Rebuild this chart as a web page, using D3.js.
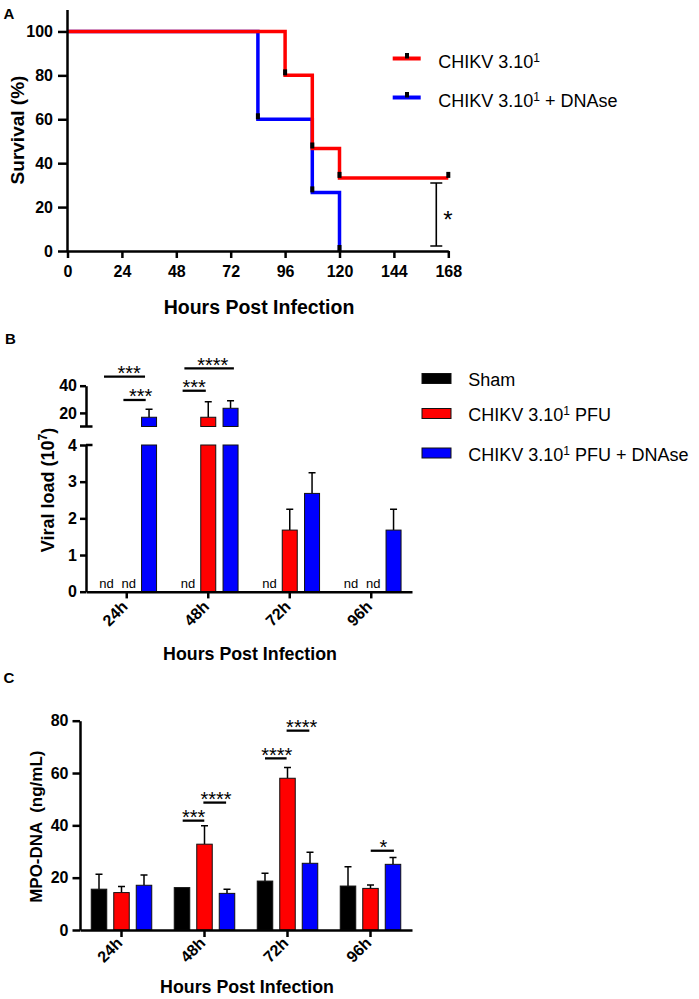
<!DOCTYPE html>
<html><head><meta charset="utf-8">
<script src="https://cdn.jsdelivr.net/npm/d3@7"></script>
<style>
body{margin:0;background:#fff;}
svg{display:block;font-family:"Liberation Sans",Arial,Helvetica,sans-serif;}
</style>
</head><body>
<svg id="chart" width="699" height="999"></svg>
<script>
// ---------- Panel A: survival ----------
const survHourTicks = [0, 24, 48, 72, 96, 120, 144, 168];
const survPctTicks = [0, 20, 40, 60, 80, 100];
const redTimes = [0, 96, 108, 120, 168];
const redSurv = [100, 80, 46.7, 33.3, 33.3];
const blueTimes = [0, 84, 108, 120];
const blueSurv = [100, 60, 26.7, 0];
const survLegend = [["CHIKV 3.10", "1", ""], ["CHIKV 3.10", "1", " + DNAse"]];
const survSig = {hour: 162.7, from: 2.3, to: 31, text: "*"};

// ---------- Panel B: viral load ----------
const groups = ["24h", "48h", "72h", "96h"];
const seriesLabels = [["Sham", "", ""], ["CHIKV 3.10", "1", " PFU"], ["CHIKV 3.10", "1", " PFU + DNAse"]];
const seriesColors = ["#000000", "#ff0000", "#0000ff"];
const viralSham = [null, null, null, null];
const viralRed = [null, 16.8, 1.68, null];
const viralBlue = [16.8, 23.4, 2.68, 1.68];
const viralShamErr = [null, null, null, null];
const viralRedErr = [null, 11.4, 0.57, null];
const viralBlueErr = [5.8, 5.6, 0.56, 0.57];
const viralLowTicks = [0, 1, 2, 3, 4];
const viralHighTicks = [20, 40];
const viralSig = [
  {group: "24h", from: -0.02, to: 1.82, level: 46.6, star: 1.11, text: "***"},
  {group: "24h", from: 0.85, to: 1.85, level: 29.5, star: 1.62, text: "***"},
  {group: "48h", from: -0.15, to: 0.89, level: 36.3, star: 0.37, text: "***"},
  {group: "48h", from: -0.07, to: 2.15, level: 52.8, star: 1.2, text: "****"}
];

// ---------- Panel C: MPO-DNA ----------
const mpoSham = [15.6, 16.2, 18.7, 16.8];
const mpoRed = [14.3, 32.8, 58.0, 15.9];
const mpoBlue = [17.1, 14.0, 25.5, 25.1];
const mpoShamErr = [5.7, 0, 3.0, 7.4];
const mpoRedErr = [2.3, 7.0, 4.1, 1.3];
const mpoBlueErr = [3.9, 1.6, 4.2, 2.6];
const mpoTicks = [0, 20, 40, 60, 80];
const mpoSig = [
  {group: "48h", from: 0.03, to: 0.99, level: 41.8, star: 0.52, text: "***"},
  {group: "48h", from: 0.95, to: 1.96, level: 48.7, star: 1.51, text: "****"},
  {group: "72h", from: 0.0, to: 0.96, level: 65.6, star: 0.52, text: "****"},
  {group: "72h", from: 0.96, to: 1.97, level: 76.2, star: 1.63, text: "****"},
  {group: "96h", from: 1.01, to: 2.04, level: 30.3, star: 1.57, text: "*"}
];

const svg = d3.select("#chart");
const AXW = 2.5;
const intFmt = d3.format("d");

function styleAxis(sel, fs) {
  sel.attr("font-family", null).attr("font-size", null);
  sel.select(".domain").attr("stroke", "#000").attr("stroke-width", AXW);
  sel.selectAll(".tick line").attr("stroke", "#000").attr("stroke-width", AXW);
  sel.selectAll(".tick text").attr("fill", "#000")
    .style("font-size", fs + "px").style("font-weight", "bold");
}

function richText(g, x, y, parts, fs, weight, anchor, rotate, supFs, supDy) {
  const t = g.append("text")
    .attr("transform", `translate(${x},${y})` + (rotate ? ` rotate(${rotate})` : ""))
    .attr("text-anchor", anchor || "start")
    .style("font-size", fs + "px").style("font-weight", weight || "normal")
    .style("white-space", "pre").attr("fill", "#000");
  t.append("tspan").text(parts[0]);
  if (parts[1]) {
    t.append("tspan").text(parts[1]).style("font-size", supFs + "px").attr("dy", -supDy);
    if (parts[2]) t.append("tspan").text(parts[2]).attr("dy", supDy);
  }
  return t;
}

function panelLabel(txt, x, y) {
  svg.append("text").attr("x", x).attr("y", y).text(txt)
    .style("font-size", "15px").style("font-weight", "bold");
}

// =============== PANEL A ===============
(function () {
  const g = svg.append("g");
  const x = d3.scaleLinear().domain([0, 168]).range([67.5, 448.3]);
  const y = d3.scaleLinear().domain([0, 110]).range([251, 9.5]);
  panelLabel("A", 3.5, 18.5);

  const curve = d3.line().x(d => x(d[0])).y(d => y(d[1])).curve(d3.curveStepAfter);
  const blue = blueTimes.map((t, i) => [t, blueSurv[i]]);
  const red = redTimes.map((t, i) => [t, redSurv[i]]);
  g.append("path").attr("d", curve(blue)).attr("fill", "none")
    .attr("stroke", "#0000ff").attr("stroke-width", 3.5);
  g.append("path").attr("d", curve(red)).attr("fill", "none")
    .attr("stroke", "#ff0000").attr("stroke-width", 3.5);

  const marks = blue.slice(1).concat(red.slice(1));
  g.selectAll("rect.mk").data(marks).join("rect").attr("class", "mk")
    .attr("x", d => x(d[0]) - 2).attr("y", d => y(d[1]) - 6)
    .attr("width", 4).attr("height", 6).attr("fill", "#000");

  const xa = g.append("g").attr("transform", "translate(0,251)")
    .call(d3.axisBottom(x).tickValues(survHourTicks).tickFormat(intFmt).tickSize(7).tickSizeOuter(0).tickPadding(7.6));
  styleAxis(xa, 16);
  const ya = g.append("g").attr("transform", "translate(67,0)")
    .call(d3.axisLeft(y).tickValues(survPctTicks).tickFormat(intFmt).tickSize(9).tickPadding(5).tickSizeOuter(0));
  styleAxis(ya, 16);

  // significance bracket
  const bx = x(survSig.hour);
  g.append("path")
    .attr("d", `M${bx - 6},${y(survSig.to)}H${bx + 6}M${bx},${y(survSig.to)}V${y(survSig.from)}M${bx - 6},${y(survSig.from)}H${bx + 6}`)
    .attr("stroke", "#000").attr("stroke-width", 1.6).attr("fill", "none");
  g.append("text").attr("x", bx + 7).attr("y", (y(survSig.to) + y(survSig.from)) / 2 + 13.5)
    .text(survSig.text).style("font-size", "24px");

  g.append("text").attr("x", 259).attr("y", 314).attr("text-anchor", "middle")
    .text("Hours Post Infection").style("font-size", "19.5px").style("font-weight", "bold");
  g.append("text").attr("transform", "translate(24.3,130) rotate(-90)").attr("text-anchor", "middle")
    .text("Survival (%)").style("font-size", "19px").style("font-weight", "bold");

  // legend
  const legCol = ["#ff0000", "#0000ff"];
  const legY = [58.5, 97.5];
  survLegend.forEach((lab, i) => {
    g.append("line").attr("x1", 392.7).attr("x2", 420.7).attr("y1", legY[i]).attr("y2", legY[i])
      .attr("stroke", legCol[i]).attr("stroke-width", 4);
    g.append("rect").attr("x", 405).attr("y", legY[i] - 5.5).attr("width", 4).attr("height", 5.5).attr("fill", "#000");
    richText(g, 438.3, legY[i] + 9.8, lab, 18, "normal", "start", 0, 12, 6);
  });
})();

// =============== shared bar helpers ===============
function drawErr(g, cx, y0, y1) {
  g.append("path").attr("d", `M${cx},${y0}V${y1}M${cx - 3.5},${y1}H${cx + 3.5}`)
    .attr("stroke", "#000").attr("stroke-width", 1.5).attr("fill", "none");
}
function drawSig(g, sigs, xc, off, yScale) {
  sigs.forEach(s => {
    const c = xc(s.group);
    const yy = yScale(s.level);
    g.append("line").attr("x1", c + (s.from - 1) * off).attr("x2", c + (s.to - 1) * off)
      .attr("y1", yy).attr("y2", yy).attr("stroke", "#000").attr("stroke-width", 2.3);
    g.append("text").attr("x", c + (s.star - 1) * off).attr("y", yy + 3.5)
      .attr("text-anchor", "middle").text(s.text).style("font-size", "20px");
  });
}
function rotLabels(ax, dyv) {
  ax.selectAll(".tick text").attr("x", null).attr("y", null).attr("dy", "0.35em")
    .attr("text-anchor", "end").attr("transform", `translate(-2,${dyv}) rotate(-45)`);
}

// =============== PANEL B ===============
(function () {
  const g = svg.append("g");
  panelLabel("B", 5, 344);
  const xb = d3.scaleBand().domain(groups).range([86, 412]);
  const xc = gr => xb(gr) + xb.bandwidth() / 2;
  const yLo = d3.scaleLinear().domain([0, 4]).range([591.7, 445]);
  const yUp = d3.scaleLinear().domain([10, 40]).range([426.5, 385.7]);
  const OFF = 22.3, BW = 15;
  const vals = [viralSham, viralRed, viralBlue];
  const errs = [viralShamErr, viralRedErr, viralBlueErr];

  vals.forEach((arr, s) => {
    arr.forEach((v, i) => {
      const cx = xc(groups[i]) + (s - 1) * OFF;
      if (v === null) {
        g.append("text").attr("x", cx + 2).attr("y", 588).attr("text-anchor", "middle")
          .text("nd").style("font-size", "13px");
        return;
      }
      const e = errs[s][i];
      if (v > 4) {
        g.append("rect").attr("x", cx - BW / 2).attr("y", yLo(4)).attr("width", BW)
          .attr("height", yLo(0) - yLo(4)).attr("fill", seriesColors[s]).attr("stroke", "#111").attr("stroke-width", 1);
        drawErr(g, cx, yUp(v), yUp(v + e));
        g.append("rect").attr("x", cx - BW / 2).attr("y", yUp(v)).attr("width", BW)
          .attr("height", yUp(10) - yUp(v)).attr("fill", seriesColors[s]).attr("stroke", "#111").attr("stroke-width", 1);
      } else {
        drawErr(g, cx, yLo(v), yLo(v + e));
        g.append("rect").attr("x", cx - BW / 2).attr("y", yLo(v)).attr("width", BW)
          .attr("height", yLo(0) - yLo(v)).attr("fill", seriesColors[s]).attr("stroke", "#111").attr("stroke-width", 1);
      }
    });
  });

  const lo = g.append("g").attr("transform", "translate(86,0)")
    .call(d3.axisLeft(yLo).tickValues(viralLowTicks).tickFormat(intFmt).tickSize(6).tickPadding(3).tickSizeOuter(0));
  styleAxis(lo, 16);
  const up = g.append("g").attr("transform", "translate(86,0)")
    .call(d3.axisLeft(yUp).tickValues(viralHighTicks).tickFormat(intFmt).tickSize(6).tickPadding(3).tickSizeOuter(0));
  styleAxis(up, 16);
  // break caps
  g.append("path").attr("d", `M80,${yUp(10)}H92.5M86,${yLo(4)}H92.5`)
    .attr("stroke", "#000").attr("stroke-width", AXW);

  const xa = g.append("g").attr("transform", `translate(0,${yLo(0)})`)
    .call(d3.axisBottom(xb).tickSize(6.7).tickSizeOuter(0));
  styleAxis(xa, 16);
  rotLabels(xa, 12);

  drawSig(g, viralSig, xc, OFF, yUp);

  g.append("text").attr("x", 250).attr("y", 660).attr("text-anchor", "middle")
    .text("Hours Post Infection").style("font-size", "17.8px").style("font-weight", "bold");
  richText(g, 53.5, 490, ["Viral load (10", "7", ")"], 18, "bold", "middle", -90, 12, 7);

  // legend
  const legBase = [386, 421, 460.5];
  seriesLabels.forEach((lab, i) => {
    g.append("rect").attr("x", 422).attr("y", legBase[i] - 12.5).attr("width", 29).attr("height", 10)
      .attr("fill", seriesColors[i]).attr("stroke", "#111").attr("stroke-width", 1);
    richText(g, 468.3, legBase[i], lab, 18, "normal", "start", 0, 12, 6);
  });
})();

// =============== PANEL C ===============
(function () {
  const g = svg.append("g");
  panelLabel("C", 3.5, 683);
  const xb = d3.scaleBand().domain(groups).range([80, 412]);
  const xc = gr => xb(gr) + xb.bandwidth() / 2;
  const y = d3.scaleLinear().domain([0, 80]).range([930, 720.7]);
  const OFF = 22.5, BW = 15.5;
  const vals = [mpoSham, mpoRed, mpoBlue];
  const errs = [mpoShamErr, mpoRedErr, mpoBlueErr];

  vals.forEach((arr, s) => {
    arr.forEach((v, i) => {
      const cx = xc(groups[i]) + (s - 1) * OFF;
      const e = errs[s][i];
      if (e > 0) drawErr(g, cx, y(v), y(v + e));
      g.append("rect").attr("x", cx - BW / 2).attr("y", y(v)).attr("width", BW)
        .attr("height", y(0) - y(v)).attr("fill", seriesColors[s]).attr("stroke", "#111").attr("stroke-width", 1);
    });
  });

  const ya = g.append("g").attr("transform", "translate(80,0)")
    .call(d3.axisLeft(y).tickValues(mpoTicks).tickFormat(intFmt).tickSize(7.5).tickPadding(4).tickSizeOuter(0));
  styleAxis(ya, 16);
  const xa = g.append("g").attr("transform", `translate(0,${y(0)})`)
    .call(d3.axisBottom(xb).tickSize(7).tickSizeOuter(0));
  styleAxis(xa, 16);
  rotLabels(xa, 10);

  drawSig(g, mpoSig, xc, OFF, y);

  g.append("text").attr("x", 247).attr("y", 993).attr("text-anchor", "middle")
    .text("Hours Post Infection").style("font-size", "17.8px").style("font-weight", "bold");
  g.append("text").attr("transform", "translate(42,826.7) rotate(-90)").attr("text-anchor", "middle")
    .style("white-space", "pre").text("MPO-DNA  (ng/mL)").style("font-size", "17px").style("font-weight", "bold");
})();
</script>
</body></html>
